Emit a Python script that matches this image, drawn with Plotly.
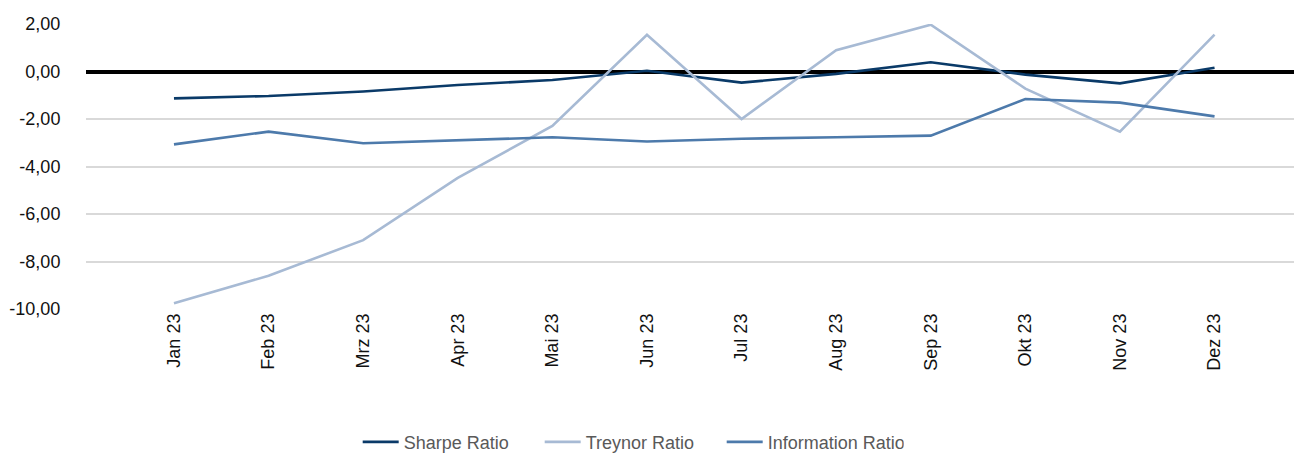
import plotly.graph_objects as go

months = ["Jan 23", "Feb 23", "Mrz 23", "Apr 23", "Mai 23", "Jun 23",
          "Jul 23", "Aug 23", "Sep 23", "Okt 23", "Nov 23", "Dez 23"]
sharpe = [-1.13, -1.03, -0.84, -0.57, -0.36, 0.03, -0.47, -0.10, 0.39, -0.13, -0.50, 0.16]
treynor = [-9.76, -8.60, -7.10, -4.48, -2.29, 1.55, -2.00, 0.90, 1.97, -0.72, -2.53, 1.55]
information = [-3.07, -2.53, -3.02, -2.88, -2.77, -2.95, -2.83, -2.77, -2.70, -1.16, -1.31, -1.89]

y_ticks = [2, 0, -2, -4, -6, -8, -10]
# German number format with a plain hyphen for negatives
y_labels = [f"{v:.2f}".replace(".", ",") for v in y_ticks]

series = [
    ("Sharpe Ratio", sharpe, "#0a3a68"),
    ("Treynor Ratio", treynor, "#a7bad4"),
    ("Information Ratio", information, "#4d7aab"),
]

fig = go.Figure()
for name, vals, color in series:
    fig.add_trace(go.Scatter(
        x=list(range(len(months))), y=vals, name=name, mode="lines",
        line=dict(color=color, width=2.6),
    ))

font_family = "Arial, Liberation Sans, sans-serif"

fig.update_layout(
    width=1296, height=454,
    margin=dict(l=86, r=2, t=24, b=145),
    paper_bgcolor="white", plot_bgcolor="white",
    font=dict(family=font_family, size=18, color="#111111"),
    showlegend=True,
    legend=dict(
        orientation="h", xref="container", yref="container",
        x=0.276, xanchor="left", y=0.026, yanchor="middle",
        font=dict(size=18, color="#595959"),
        itemwidth=36, entrywidth=131, entrywidthmode="pixels",
        tracegroupgap=0, borderwidth=0,
    ),
    xaxis=dict(
        tickmode="array", tickvals=list(range(len(months))), ticktext=months,
        range=[-0.93, 11.84], tickangle=-90, showgrid=False, zeroline=False,
        showline=False, ticks="", tickfont=dict(size=18, color="#111111"),
    ),
    yaxis=dict(
        range=[-10, 2], tickmode="array", tickvals=y_ticks, ticktext=y_labels,
        showgrid=True, gridcolor="#d9d9d9", gridwidth=2,
        zeroline=True, zerolinecolor="#000000", zerolinewidth=3.5,
        showline=False, ticks="outside", ticklen=21, tickcolor="rgba(0,0,0,0)",
        tickfont=dict(size=18, color="#111111"),
    ),
)

fig.write_html("out.html")
